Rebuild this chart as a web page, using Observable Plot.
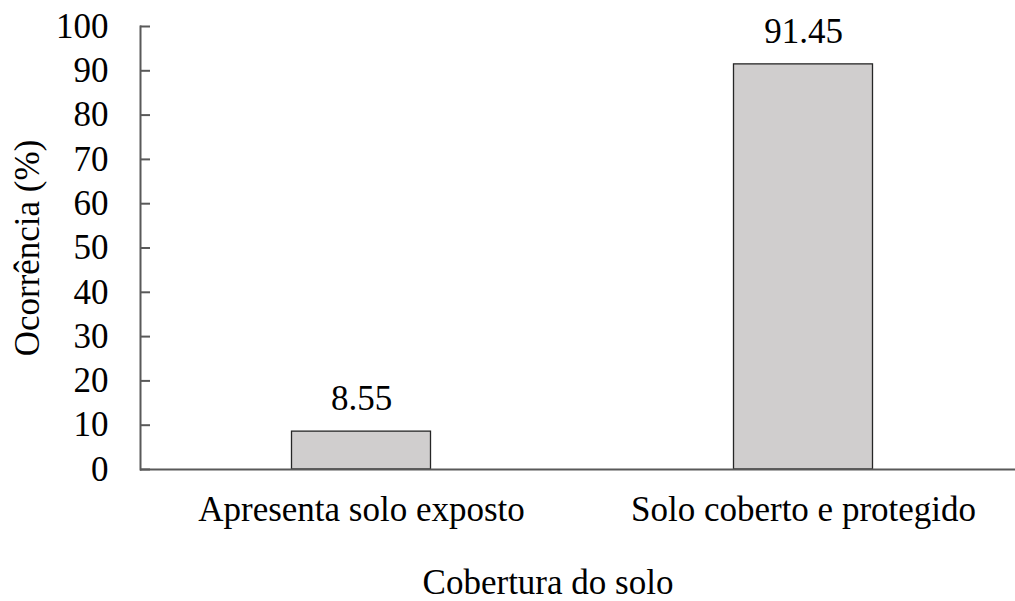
<!DOCTYPE html>
<html><head><meta charset="utf-8">
<script src="https://cdn.jsdelivr.net/npm/d3@7"></script>
<script src="https://cdn.jsdelivr.net/npm/@observablehq/plot@0.6"></script>
<style>
body{margin:0;background:#fff;font-family:"Times New Roman","Liberation Serif",serif}
#chart svg text{font-family:"Times New Roman","Liberation Serif",serif}
</style>
</head><body><div id="chart"></div>
<script>
const categories = ["Apresenta solo exposto", "Solo coberto e protegido"];
const values = [8.55, 91.45];
const valueLabels = ["8.55", "91.45"];
const yTicks = [0, 10, 20, 30, 40, 50, 60, 70, 80, 90, 100];
const xTitle = "Cobertura do solo";
const yTitle = "Ocorrência (%)";

const data = categories.map((c, i) => ({category: c, value: values[i], label: valueLabels[i]}));
const font = "Times New Roman";

const chart = Plot.plot({
  width: 1015, height: 601,
  marginLeft: 140, marginRight: 0, marginTop: 26, marginBottom: 132,
  style: {fontFamily: font, fontSize: "35px"},
  x: {type: "band", domain: categories, range: [140, 1024.5], padding: 0, label: null},
  y: {domain: [0, 100], label: null},
  marks: [
    Plot.barY(data, {x: "category", y: "value", fill: "#d0cece", stroke: "#262626", strokeWidth: 1.3, insetLeft: 151.5, insetRight: 151.5}),
    Plot.text(data, {x: "category", y: "value", text: "label", dy: -33, lineAnchor: "middle", fontSize: 35, fill: "#000"}),
    Plot.ruleY([0], {stroke: "#595959", strokeWidth: 2}),
    Plot.frame({anchor: "left", stroke: "#595959", strokeWidth: 2}),
    Plot.axisY({ticks: yTicks, tickSize: -10, tickPadding: 42, stroke: "#595959", strokeWidth: 2, label: null, fontSize: 35}),
    Plot.axisX({tickSize: 0, tickPadding: 27, label: null, fontSize: 35}),
    Plot.text([xTitle], {frameAnchor: "bottom", dx: -30, dy: 113, lineAnchor: "middle", textAnchor: "middle", fontSize: 35, fill: "#000"}),
    Plot.text([yTitle], {frameAnchor: "left", rotate: -90, dx: -113, lineAnchor: "middle", textAnchor: "middle", fontSize: 35, fill: "#000"})
  ]
});
chart.setAttribute("font-family", "Times New Roman, Liberation Serif, serif");
document.getElementById("chart").appendChild(chart);
</script>
</body></html>
